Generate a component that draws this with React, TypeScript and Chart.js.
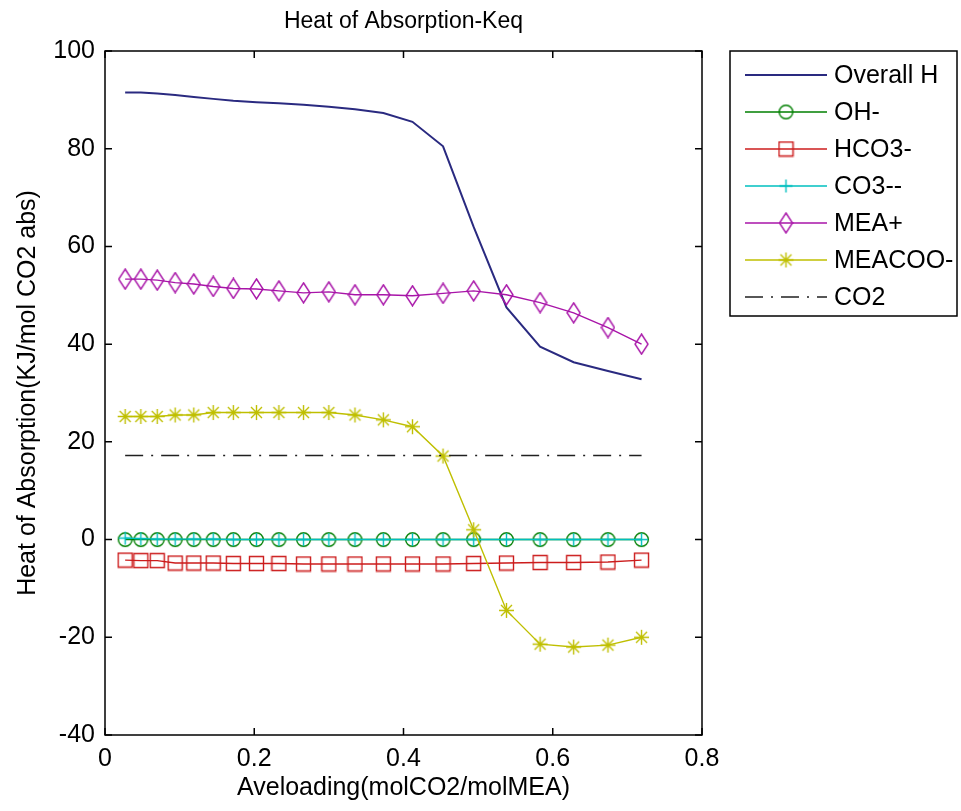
import React, { useEffect, useRef } from "react";
import { Chart, registerables } from "chart.js";

Chart.register(...registerables);

// ---- data ----
const xLoading = [0.027, 0.048, 0.070, 0.094, 0.119, 0.145, 0.172, 0.203, 0.233, 0.266, 0.300, 0.335, 0.373, 0.412, 0.453, 0.494, 0.538, 0.583, 0.628, 0.674, 0.719];
const overallH = [91.5, 91.5, 91.3, 91.0, 90.6, 90.2, 89.8, 89.5, 89.3, 89.0, 88.6, 88.1, 87.3, 85.5, 80.5, 64.0, 47.5, 39.5, 36.3, 34.5, 32.8];
const ohMinus = [0, 0, 0, 0, 0, 0, 0, 0, 0, 0, 0, 0, 0, 0, 0, 0, 0, 0, 0, 0, 0];
const hco3Minus = [-4.2, -4.3, -4.3, -4.8, -4.8, -4.8, -4.9, -4.9, -4.9, -5.0, -5.0, -5.0, -5.0, -5.0, -5.0, -4.9, -4.8, -4.7, -4.7, -4.6, -4.2];
const co3Minus2 = [0.3, 0.2, 0.1, 0.1, 0.1, 0.1, 0, 0, 0, 0, 0, 0, 0, 0, 0, 0, 0, 0, 0, 0, 0];
const meaPlus = [53.3, 53.3, 53.1, 52.6, 52.3, 51.8, 51.4, 51.3, 50.9, 50.5, 50.7, 50.1, 50.1, 49.9, 50.4, 50.9, 50.1, 48.5, 46.4, 43.4, 40.0];
const meacooMinus = [25.2, 25.2, 25.2, 25.5, 25.5, 26.0, 26.0, 26.0, 26.0, 26.0, 26.0, 25.5, 24.5, 23.1, 17.1, 2.0, -14.5, -21.4, -22.0, -21.6, -20.0];
const co2 = [17.2, 17.2, 17.2, 17.2, 17.2, 17.2, 17.2, 17.2, 17.2, 17.2, 17.2, 17.2, 17.2, 17.2, 17.2, 17.2, 17.2, 17.2, 17.2, 17.2, 17.2];

const seriesLabels = ["Overall H", "OH-", "HCO3-", "CO3--", "MEA+", "MEACOO-", "CO2"];
const seriesValues = [overallH, ohMinus, hco3Minus, co3Minus2, meaPlus, meacooMinus, co2];
const seriesColors = ["#2a2a80", "#007f00", "#cc1c1c", "#00bfbf", "#a814a8", "#bfbf00", "#202020"];
const seriesMarkers = ["none", "circle", "square", "plus", "diamond", "asterisk", "none"];

const xTicks = [0, 0.2, 0.4, 0.6, 0.8];
const yTicks = [-40, -20, 0, 20, 40, 60, 80, 100];

const chartTitle = "Heat of Absorption-Keq";
const xTitle = "Aveloading(molCO2/molMEA)";
const yTitle = "Heat of Absorption(KJ/mol CO2 abs)";

const FONT = "'Liberation Sans', Arial, sans-serif";

function makeMarker(kind: string, color: string): HTMLCanvasElement | null {
  if (kind === "none") return null;
  const c = document.createElement("canvas");
  let w = 17, h = 17;
  if (kind === "diamond") { w = 15; h = 22; }
  c.width = w; c.height = h;
  const ctx = c.getContext("2d")!;
  ctx.strokeStyle = color;
  ctx.lineWidth = 1.4;
  ctx.beginPath();
  if (kind === "circle") {
    ctx.arc(w / 2, h / 2, 6.8, 0, Math.PI * 2);
  } else if (kind === "square") {
    ctx.rect(1.5, 1.5, w - 3, h - 3);
  } else if (kind === "plus") {
    ctx.moveTo(w / 2, 2); ctx.lineTo(w / 2, h - 2);
    ctx.moveTo(2, h / 2); ctx.lineTo(w - 2, h / 2);
  } else if (kind === "diamond") {
    ctx.moveTo(w / 2, 1); ctx.lineTo(w - 1, h / 2); ctx.lineTo(w / 2, h - 1); ctx.lineTo(1, h / 2); ctx.closePath();
  } else if (kind === "asterisk") {
    ctx.moveTo(w / 2, 1); ctx.lineTo(w / 2, h - 1);
    ctx.moveTo(1, h / 2); ctx.lineTo(w - 1, h / 2);
    const d = 5.5;
    ctx.moveTo(w / 2 - d, h / 2 - d); ctx.lineTo(w / 2 + d, h / 2 + d);
    ctx.moveTo(w / 2 + d, h / 2 - d); ctx.lineTo(w / 2 - d, h / 2 + d);
  }
  ctx.stroke();
  return c;
}

export default function App() {
  const ref = useRef<HTMLCanvasElement | null>(null);

  useEffect(() => {
    const canvas = ref.current;
    if (!canvas) return;
    const markers = seriesMarkers.map((m, i) => makeMarker(m, seriesColors[i]));

    const datasets = seriesLabels.map((label, i) => ({
      label,
      data: xLoading.map((x, j) => ({ x, y: seriesValues[i][j] })),
      borderColor: seriesColors[i],
      backgroundColor: seriesColors[i],
      borderWidth: i === 0 ? 2 : 1.4,
      borderDash: i === 6 ? [18, 8, 2, 8] : [],
      pointStyle: markers[i] || "circle",
      pointRadius: markers[i] ? 6 : 0,
      pointHoverRadius: markers[i] ? 6 : 0,
      tension: 0,
      fill: false,
      order: 6 - i,
    }));

    const framePlugin = {
      id: "matlabFrame",
      afterDraw(chart: any) {
        const { ctx, chartArea: a, scales } = chart;
        const xs = scales.x, ys = scales.y;
        ctx.save();
        ctx.strokeStyle = "#000";
        ctx.lineWidth = 1.5;
        ctx.strokeRect(a.left, a.top, a.right - a.left, a.bottom - a.top);
        ctx.beginPath();
        const tl = 7;
        xTicks.forEach((v) => {
          const px = xs.getPixelForValue(v);
          ctx.moveTo(px, a.bottom); ctx.lineTo(px, a.bottom - tl);
          ctx.moveTo(px, a.top); ctx.lineTo(px, a.top + tl);
        });
        yTicks.forEach((v) => {
          const py = ys.getPixelForValue(v);
          ctx.moveTo(a.left, py); ctx.lineTo(a.left + tl, py);
          ctx.moveTo(a.right, py); ctx.lineTo(a.right - tl, py);
        });
        ctx.stroke();

        // titles
        ctx.fillStyle = "#000";
        ctx.font = `23px ${FONT}`;
        ctx.textAlign = "center";
        ctx.textBaseline = "middle";
        ctx.fillText(chartTitle, (a.left + a.right) / 2, 22);
        ctx.font = `25px ${FONT}`;
        ctx.fillText(xTitle, (a.left + a.right) / 2, 788);
        ctx.save();
        ctx.translate(28, (a.top + a.bottom) / 2);
        ctx.rotate(-Math.PI / 2);
        ctx.fillText(yTitle, 0, 0);
        ctx.restore();

        // legend
        const lx = 730, ly = 51, lw = 227, lh = 265;
        ctx.fillStyle = "#fff";
        ctx.fillRect(lx, ly, lw, lh);
        ctx.strokeStyle = "#000";
        ctx.lineWidth = 1.5;
        ctx.strokeRect(lx, ly, lw, lh);
        ctx.font = `25px ${FONT}`;
        ctx.textAlign = "left";
        ctx.textBaseline = "middle";
        seriesLabels.forEach((label, i) => {
          const y = 75 + i * 37;
          ctx.save();
          ctx.strokeStyle = seriesColors[i];
          ctx.lineWidth = i === 0 ? 2 : 1.4;
          ctx.setLineDash(i === 6 ? [18, 8, 2, 8] : []);
          ctx.beginPath();
          ctx.moveTo(745, y);
          ctx.lineTo(827, y);
          ctx.stroke();
          ctx.restore();
          const m = markers[i];
          if (m) ctx.drawImage(m, 786 - m.width / 2, y - m.height / 2);
          ctx.fillStyle = "#000";
          ctx.fillText(label, 834, y + 1);
        });
        ctx.restore();
      },
    };

    const chart = new Chart(canvas, {
      type: "line",
      data: { datasets },
      options: {
        animation: false,
        responsive: false,
        maintainAspectRatio: false,
        layout: { padding: { left: 0, right: 259, top: 51, bottom: 0 } },
        plugins: { legend: { display: false }, title: { display: false }, tooltip: { enabled: false } },
        scales: {
          x: {
            type: "linear",
            min: 0,
            max: 0.8,
            afterFit: (s: any) => { s.height = 76; },
            afterBuildTicks: (s: any) => { s.ticks = xTicks.map((v) => ({ value: v })); },
            grid: { display: false, drawTicks: false },
            border: { display: false },
            ticks: { padding: 9, color: "#000", font: { family: FONT, size: 25 }, maxRotation: 0, autoSkip: false, callback: (v: any) => String(v) },
          },
          y: {
            type: "linear",
            min: -40,
            max: 100,
            afterFit: (s: any) => { s.width = 105; },
            afterBuildTicks: (s: any) => { s.ticks = yTicks.map((v) => ({ value: v })); },
            grid: { display: false, drawTicks: false },
            border: { display: false },
            ticks: { padding: 10, color: "#000", font: { family: FONT, size: 25 }, autoSkip: false, callback: (v: any) => String(v) },
          },
        },
      },
      plugins: [framePlugin],
    });
    return () => chart.destroy();
  }, []);

  return (
    <canvas
      ref={ref}
      width={961}
      height={811}
      style={{ position: "fixed", left: 0, top: 0, width: 961, height: 811, background: "#fff" }}
    />
  );
}
